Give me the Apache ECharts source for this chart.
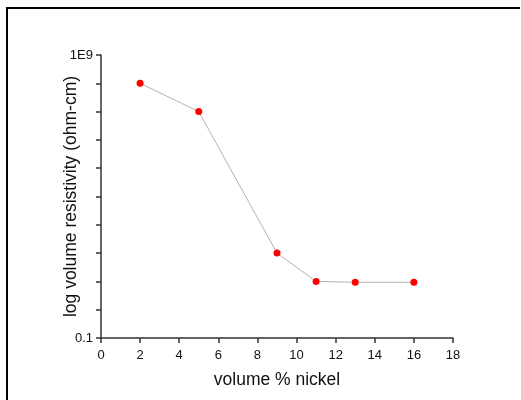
<!DOCTYPE html>
<html>
<head>
<meta charset="utf-8">
<script src="https://cdn.jsdelivr.net/npm/echarts@6/dist/echarts.min.js"></script>
<style>
  html, body { margin: 0; padding: 0; background: #ffffff; }
  #chart { width: 521px; height: 400px; }
</style>
</head>
<body>
<div id="chart"></div>
<script>
// Nickel loading (vol %) vs volume resistivity (ohm-cm)
const nickelPct = [2, 5, 9, 11, 13, 16];
const resistivity = [1.0e8, 1.0e7, 100, 10, 9.3, 9.3];
const xTicks = [0, 2, 4, 6, 8, 10, 12, 14, 16, 18];
const yLabelled = [0.1, 1e9];
const yLabelText = ['0.1', '1E9'];

const chart = echarts.init(document.getElementById('chart'), null, { renderer: 'canvas' });

const font = 'Liberation Sans, Arial, sans-serif';

chart.setOption({
  backgroundColor: '#ffffff',
  animation: false,
  grid: { left: 101, right: 68, top: 55, bottom: 62 },
  graphic: [
    { type: 'line', shape: { x1: 7, y1: 8, x2: 7, y2: 400 }, style: { stroke: '#000', lineWidth: 2 } },
    { type: 'line', shape: { x1: 6, y1: 8, x2: 520, y2: 8 }, style: { stroke: '#000', lineWidth: 2 } }
  ],
  xAxis: {
    type: 'value',
    min: xTicks[0],
    max: xTicks[xTicks.length - 1],
    interval: 2,
    name: 'volume % nickel',
    nameLocation: 'middle',
    nameGap: 33,
    nameMoveOverlap: false,
    nameTextStyle: { fontFamily: font, fontSize: 17.5, color: '#111' },
    axisLine: { show: true, onZero: false, lineStyle: { color: '#333', width: 1.5 } },
    axisTick: { show: true, inside: false, length: 5, lineStyle: { color: '#333', width: 1.5 } },
    axisLabel: { fontFamily: font, fontSize: 13, color: '#111', margin: 11 },
    splitLine: { show: false }
  },
  yAxis: {
    type: 'log',
    logBase: 10,
    min: 0.1,
    max: 1e9,
    interval: 1,
    name: 'log volume resistivity (ohm-cm)',
    nameLocation: 'middle',
    nameGap: 21,
    nameMoveOverlap: false,
    nameTextStyle: { fontFamily: font, fontSize: 17.5, color: '#111' },
    axisLine: { show: true, onZero: false, lineStyle: { color: '#333', width: 1.5 } },
    axisTick: { show: true, inside: false, length: 5, lineStyle: { color: '#333', width: 1.5 } },
    axisLabel: {
      fontFamily: font, fontSize: 13, color: '#111', margin: 8,
      formatter: function (v) {
        for (let i = 0; i < yLabelled.length; i++) {
          if (Math.abs(Math.log10(v) - Math.log10(yLabelled[i])) < 1e-6) return yLabelText[i];
        }
        return '';
      }
    },
    splitLine: { show: false }
  },
  series: [{
    type: 'line',
    data: nickelPct.map((x, i) => [x, resistivity[i]]),
    symbol: 'circle',
    symbolSize: 7,
    itemStyle: { color: '#ff0000' },
    lineStyle: { color: '#b4b4b4', width: 1 }
  }]
});
</script>
</body>
</html>
